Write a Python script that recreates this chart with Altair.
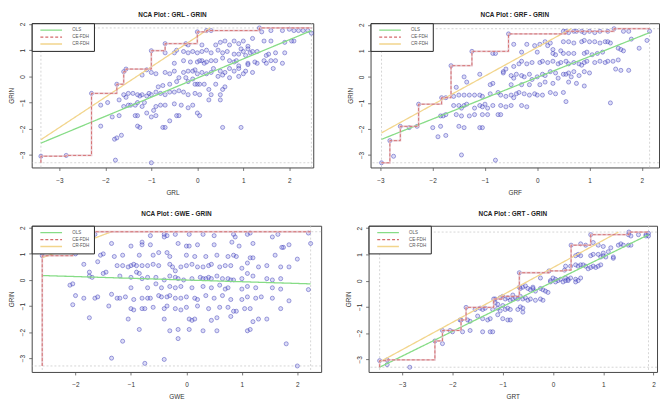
import altair as alt
import pandas as pd

FONT = "Liberation Sans"
METHODS = ["OLS", "CE-FDH", "CR-FDH"]
METHOD_COLORS = ["#86DC86", "#D46A6A", "#F2D58C"]
METHOD_DASH = [[1, 0], [3, 2], [1, 0]]
Y_TICKS = [-3, -2, -1, 0, 1, 2]

# ---------------- Panel 1 : GRL - GRIN ----------------
GRL_PTS = [
    (0.3, 1.75), (0.5, 1.3), (0.6, 1.35), (0.7, 1.2), (0.8, 1.35), (0.9, 1.25), (1.0, 1.35), (1.1, 1.15),
    (1.2, 1.45), (1.4, 1.7), (1.45, 1.35), (1.6, 1.75), (1.85, 1.75), (1.9, 1.3), (2.0, 1.8), (2.1, 1.75),
    (2.2, 1.75), (2.3, 1.75), (2.4, 1.75), (2.48, 1.65), (2.05, 1.35), (2.1, 1.35), (0.4, 1.2), (0.45, 1.0),
    (0.2, 1.0), (0.1, 0.95), (-0.1, 0.95), (-0.2, 0.9), (-0.3, 0.95), (-0.45, 1.0), (-0.5, 0.9), (-0.7, 0.9),
    (0.0, 0.9), (0.3, 0.9), (0.55, 0.9), (0.65, 0.95), (0.8, 0.85), (0.9, 0.85), (1.0, 0.95), (1.05, 0.8),
    (1.15, 0.9), (1.2, 0.95), (1.3, 0.95), (1.5, 0.8), (1.55, 0.85), (1.7, 0.9), (1.9, 0.9), (1.85, 0.5),
    (1.6, 0.6), (1.45, 0.6), (1.3, 0.5), (1.1, 0.5), (0.9, 0.4), (0.8, 0.55), (0.7, 0.6), (0.55, 0.7),
    (0.4, 0.6), (0.3, 0.6), (0.2, 0.55), (0.1, 0.6), (0.0, 0.55), (0.05, 0.6), (0.15, 0.5), (0.35, 0.3),
    (0.5, 0.2), (0.6, 0.15), (0.7, 0.3), (0.8, 0.2), (0.9, 0.3), (1.05, 0.2), (1.2, 0.15), (0.45, 0.0),
    (0.55, 0.05), (0.7, -0.05), (0.9, 0.0), (1.0, 0.1), (0.3, 0.15), (0.2, 0.1), (0.1, 0.15), (0.0, 0.1),
    (-0.1, 0.2), (-0.2, 0.2), (-0.3, 0.15), (-0.5, 0.2), (-0.6, 0.1), (-0.7, 0.15), (-0.9, 0.1), (-1.0, 0.15),
    (-1.2, 0.05), (-1.1, 0.25), (-0.5, 0.5), (-0.3, 0.6), (-0.15, 0.55), (-0.05, 0.25), (-0.4, -0.05),
    (-0.25, -0.05), (-0.1, -0.1), (0.0, -0.3), (0.05, -0.3), (0.15, -0.3), (-0.05, -0.3), (-0.2, -0.2),
    (-0.45, -0.2), (-0.6, -0.3), (-0.75, -0.35), (-0.85, -0.4), (-0.9, -0.6), (-0.8, -0.65), (-0.7, -0.7),
    (-0.6, -0.6), (-0.5, -0.6), (-0.4, -0.55), (-0.3, -0.6), (-0.2, -0.7), (-0.05, -0.65), (0.05, -0.7),
    (0.25, -0.5), (0.3, -0.7), (0.5, -0.7), (0.55, -0.5), (0.4, -0.3), (0.6, -0.4), (0.25, -0.9), (0.0, -1.4),
    (0.05, -1.5), (-0.1, -1.1), (-0.2, -1.2), (-0.35, -1.1), (-0.5, -1.05), (-0.45, -1.5), (-0.7, -1.1),
    (-0.8, -1.1), (-0.9, -1.15), (-1.0, -0.7), (-1.05, -0.65), (-1.1, -0.75), (-1.2, -0.7), (-1.25, -0.75),
    (-1.3, -0.7), (-1.35, -1.1), (-1.4, -0.65), (-1.45, -1.1), (-1.5, -1.1), (-1.55, -0.8), (-1.6, -1.15),
    (-1.3, -1.0), (-1.2, -1.15), (-1.15, -1.0), (-1.1, -1.4), (-1.0, -1.55), (-0.9, -1.5), (-0.95, -1.3),
    (-1.3, -1.5), (-1.35, -1.5), (-1.3, -1.9), (-1.25, -1.95), (-0.75, -1.95), (-0.7, -1.95), (-0.6, -1.7),
    (-0.4, -1.5), (-1.8, -2.4), (-1.75, -2.35), (-1.65, -2.25), (-1.78, -3.2), (-1.0, -3.3), (0.55, -1.95),
    (0.95, -1.95), (-2.1, -1.1), (-2.1, -1.9), (-1.95, -1.0), (-1.85, -1.55), (-1.7, -1.5), (-1.5, -0.65),
    (-1.6, -0.7), (-1.7, -0.9), (0.5, -0.9), (0.1, 1.2), (-0.2, 1.2), (1.6, 1.35), (1.65, 0.3), (1.7, 0.6),
    (1.5, 0.5), (1.1, 0.45), (1.25, 0.55), (0.85, 0.6), (0.95, 1.05), (1.1, 1.05),
]
GRL_STEP = [(-3.4, -3.3), (-3.4, -3.05), (-2.85, -3.02), (-2.3, -0.65), (-1.75, -0.3), (-1.6, 0.18),
            (-1.55, 0.28), (-1.0, 0.98), (-0.7, 1.25), (-0.25, 1.25), (0.0, 1.7), (0.2, 1.75),
            (1.35, 1.85), (2.48, 1.85)]
GRL_OLS = [(-3.4, -2.55), (2.48, 1.75)]
GRL_CR = [(-3.4, -2.42), (0.28, 1.85)]
GRL_SCOPE = (-3.4, 2.48, -3.3, 1.85)

# ---------------- Panel 2 : GRF - GRIN ----------------
GRF_PTS = [
    (-2.98, -3.3), (0.2, 1.2), (0.25, 1.3), (0.5, 1.75), (0.6, 1.7), (0.7, 1.75), (0.75, 1.75), (0.85, 1.75),
    (0.9, 1.7), (1.0, 1.75), (1.1, 1.7), (1.2, 1.75), (1.35, 1.75), (1.65, 1.75), (1.75, 1.75),
    (2.15, 1.75), (0.85, 1.35), (0.9, 1.4), (1.0, 1.35), (1.1, 1.35), (1.2, 1.3), (1.3, 1.35), (1.35, 1.35),
    (1.4, 1.3), (1.55, 1.1), (1.6, 1.05), (1.65, 1.0), (1.8, 1.45), (1.95, 1.1), (2.1, 1.4), (-0.45, 1.25),
    (-0.2, 1.25), (-0.05, 1.2), (0.05, 1.25), (0.3, 1.05), (0.45, 1.0), (0.5, 1.35), (0.6, 1.35), (0.7, 1.3),
    (0.15, 1.35), (-0.85, 0.9), (-0.8, 0.9), (-0.3, 0.95), (0.0, 0.95), (0.3, 0.9), (0.35, 0.85), (0.5, 0.9),
    (0.6, 0.9), (0.7, 0.9), (0.9, 0.9), (0.95, 0.95), (1.05, 0.85), (1.15, 0.9), (1.25, 0.95), (-0.35, 0.5),
    (-0.3, 0.6), (-0.2, 0.5), (-0.1, 0.55), (0.05, 0.55), (0.1, 0.6), (0.2, 0.55), (0.3, 0.6), (0.4, 0.5),
    (0.45, 0.55), (0.55, 0.6), (0.6, 0.5), (0.7, 0.55), (0.8, 0.5), (0.85, 0.45), (0.9, 0.55), (0.95, 0.6),
    (1.1, 0.55), (1.2, 0.6), (1.35, 0.6), (1.45, 0.6), (1.5, 0.3), (1.55, 0.65), (1.6, 0.25), (1.75, 0.25),
    (1.3, 0.55), (-0.6, 0.3), (-0.65, 0.2), (-0.45, 0.4), (-1.55, -0.4), (-1.4, 0.0), (-1.35, -0.2),
    (-1.1, 0.1), (-0.65, 0.15), (-0.5, 0.05), (-0.45, -0.05), (-0.4, 0.1), (-0.3, 0.05), (-0.25, 0.0),
    (-0.15, 0.1), (-0.1, -0.1), (0.0, 0.0), (0.1, 0.1), (0.15, 0.05), (0.25, 0.2), (0.35, 0.15), (0.4, -0.05),
    (0.5, 0.1), (0.55, 0.1), (0.6, 0.15), (0.7, 0.2), (0.8, 0.05), (0.9, 0.2), (1.0, 0.15), (0.65, 0.0),
    (0.75, -0.25), (0.9, -0.35), (0.6, -0.2), (0.3, -0.25), (0.15, -0.2), (0.05, -0.3), (-0.15, -0.3),
    (-0.3, -0.3), (-0.5, -0.3), (-0.85, -0.25), (-0.9, -0.3), (-1.75, -0.8), (-1.6, -0.75), (-1.5, -0.7),
    (-1.4, -0.7), (-1.3, -0.7), (-1.2, -0.7), (-1.1, -0.7), (-1.05, -0.75), (-0.9, -0.65), (-0.75, -0.6),
    (-0.7, -0.7), (-0.6, -0.75), (-0.5, -0.7), (-0.4, -0.65), (-0.35, -0.6), (-0.25, -0.65), (-0.15, -0.7),
    (-0.05, -0.65), (0.0, -0.7), (0.1, -0.7), (0.25, -0.6), (0.35, -0.65), (0.5, -0.6), (0.55, -0.95),
    (-0.45, -0.8), (-1.5, -1.1), (-1.45, -1.2), (-1.4, -1.1), (-1.35, -1.05), (-1.1, -1.1), (-1.05, -1.15),
    (-1.0, -1.05), (-0.95, -1.2), (-0.85, -1.1), (-0.7, -1.1), (-0.6, -1.15), (-0.5, -1.1), (-0.3, -1.1),
    (-0.2, -1.15), (-1.2, -1.45), (-1.3, -1.5), (-1.45, -1.5), (-1.55, -1.45), (-1.8, -1.5), (-1.85, -1.5),
    (-1.75, -1.45), (-1.05, -1.45), (-0.95, -1.45), (-0.75, -1.45), (-0.7, -1.45), (-1.6, -1.1),
    (-1.2, -1.2), (-2.0, -1.95), (-1.85, -1.9), (-1.9, -2.3), (-1.75, -2.25), (-1.5, -1.9), (-1.4, -1.95),
    (-1.1, -1.95), (-1.05, -1.95), (-2.45, -1.95), (-2.75, -3.05), (-1.45, -3.0), (-0.8, -3.2), (1.4, -1.0),
]
GRF_STEP = [(-2.98, -3.3), (-2.82, -2.45), (-2.62, -1.9), (-2.3, -1.9), (-2.27, -1.05), (-1.83, -0.8),
            (-1.65, 0.43), (-1.25, 0.98), (-0.55, 1.65), (0.55, 1.75), (1.47, 1.85), (2.15, 1.85)]
GRF_OLS = [(-2.98, -2.4), (2.15, 1.7)]
GRF_CR = [(-2.98, -2.15), (0.65, 1.85)]
GRF_SCOPE = (-2.98, 2.15, -3.3, 1.85)

# ---------------- Panel 3 : GWE - GRIN ----------------
GWE_PTS = [
    (-1.65, 1.75), (-0.65, 1.7), (-0.4, 1.75), (-0.35, 1.7), (-0.2, 1.75), (0.05, 1.75), (0.3, 1.75),
    (0.5, 1.7), (0.85, 1.75), (0.88, 1.65), (1.1, 1.75), (1.15, 1.8), (1.55, 1.65), (1.65, 1.75), (2.2, 1.8),
    (-0.4, 1.65), (-1.35, 1.4), (-1.0, 1.3), (-0.8, 1.45), (-0.8, 1.35), (-0.65, 1.35), (-0.15, 1.4),
    (0.0, 1.3), (0.2, 1.35), (0.5, 1.35), (0.82, 1.45), (0.95, 1.3), (1.2, 1.4), (1.75, 1.25), (1.72, 1.25),
    (1.85, 1.35), (2.24, 1.4), (0.05, 1.3), (-2.0, 1.0), (-1.5, 1.0), (-1.55, 0.95), (-1.3, 0.9),
    (-1.15, 0.95), (-0.85, 0.95), (-0.6, 0.95), (-0.35, 1.05), (-0.3, 0.9), (0.0, 0.95), (0.15, 0.9),
    (0.35, 0.9), (0.55, 0.95), (0.85, 0.95), (0.9, 0.9), (1.15, 0.85), (1.2, 0.85), (1.6, 0.95), (2.0, 0.8),
    (-0.5, 1.05), (0.75, 0.9), (-1.85, 0.6), (-1.6, 0.7), (-1.25, 0.55), (-1.0, 0.55), (-0.95, 0.6),
    (-0.9, 0.55), (-0.8, 0.55), (-0.7, 0.55), (-0.5, 0.55), (-0.3, 0.6), (-0.25, 0.5), (-0.1, 0.5),
    (0.0, 0.55), (0.1, 0.6), (0.2, 0.5), (0.3, 0.5), (0.4, 0.55), (0.45, 0.6), (0.6, 0.5), (0.7, 0.55),
    (0.8, 0.55), (1.0, 0.45), (1.1, 0.65), (1.3, 0.5), (1.45, 0.55), (1.7, 0.5), (1.85, 0.5), (-1.15, 0.55),
    (-1.05, 0.5), (-0.6, 0.6), (-0.2, 0.35), (-1.75, 0.3), (-1.75, 0.15), (-1.7, 0.1), (-1.45, 0.3),
    (-1.2, 0.15), (-1.0, 0.1), (-0.85, 0.25), (-0.8, 0.05), (-0.7, 0.1), (-0.55, 0.1), (-0.4, 0.0),
    (-0.3, 0.15), (-0.2, 0.1), (-0.15, 0.05), (-0.05, 0.0), (0.1, 0.05), (0.25, 0.1), (0.3, 0.05), (0.4, 0.1),
    (0.45, 0.05), (0.55, 0.15), (0.65, 0.05), (0.75, 0.05), (0.8, 0.0), (0.85, 0.0), (1.0, 0.05), (1.1, 0.25),
    (1.2, 0.15), (1.45, 0.05), (1.55, 0.0), (1.7, 0.05), (-1.5, 0.25), (-0.9, 0.3), (0.35, 0.05),
    (-2.1, -0.2), (-2.05, -0.15), (-1.0, -0.3), (-0.7, -0.3), (-0.45, -0.3), (-0.3, -0.25), (-0.2, -0.3),
    (-0.1, -0.25), (0.1, -0.3), (0.3, -0.25), (0.45, -0.3), (0.6, -0.2), (0.7, -0.35), (0.75, -0.3),
    (1.0, -0.35), (1.1, -0.25), (1.25, -0.3), (1.55, -0.3), (1.7, -0.35), (2.2, -0.37), (-0.55, -0.15),
    (-2.0, -0.6), (-1.85, -0.7), (-1.65, -0.7), (-1.6, -0.65), (-1.35, -0.55), (-1.25, -0.7), (-1.2, -0.7),
    (-1.1, -0.65), (-0.95, -0.75), (-0.8, -0.7), (-0.7, -0.7), (-0.65, -0.7), (-0.5, -0.6), (-0.45, -0.65),
    (-0.35, -0.65), (-0.3, -0.6), (-0.2, -0.7), (-0.1, -0.7), (0.0, -0.65), (0.15, -0.7), (0.2, -0.75),
    (0.35, -0.6), (0.5, -0.7), (0.65, -0.6), (0.8, -0.75), (1.0, -0.75), (1.1, -0.65), (1.25, -0.7),
    (1.35, -0.65), (1.55, -0.7), (1.85, -0.8), (-1.4, -1.0), (-2.05, -0.95), (-1.0, -1.1), (-0.95, -1.15),
    (-0.8, -1.1), (-0.75, -1.1), (-0.6, -1.05), (-0.4, -1.1), (-0.35, -1.0), (-0.2, -1.1), (-0.1, -1.15),
    (0.0, -1.05), (0.2, -1.0), (0.4, -1.1), (0.6, -1.05), (0.75, -1.05), (0.9, -1.2), (1.05, -1.1),
    (1.15, -1.1), (1.7, -1.1), (0.85, -1.2), (-1.75, -1.45), (-1.05, -1.5), (-0.4, -1.5), (0.05, -1.5),
    (0.1, -1.55), (0.15, -1.5), (0.45, -1.55), (0.55, -1.45), (0.8, -1.4), (1.2, -1.6), (1.3, -1.5),
    (1.45, -1.5), (-0.85, -1.9), (-0.3, -1.95), (-0.15, -1.9), (0.05, -1.9), (0.3, -1.95), (0.55, -1.95),
    (1.1, -1.95), (1.15, -1.9), (-1.15, -2.35), (-0.15, -2.25), (1.8, -2.45), (-1.35, -3.0), (-0.75, -3.2),
    (-0.4, -3.05), (2.0, -3.3),
]
GWE_STEP = [(-2.6, -3.3), (-2.6, 0.93), (-2.05, 1.08), (-1.72, 1.85), (2.24, 1.85)]
GWE_OLS = [(-2.6, 0.17), (2.24, -0.15)]
GWE_CR = [(-2.6, 0.85), (-1.35, 1.85)]
GWE_SCOPE = (-2.6, 2.24, -3.3, 1.85)

# ---------------- Panel 4 : GRT - GRIN ----------------
GRT_PTS = [
    (-3.3, -3.2), (-2.85, -3.3), (-2.2, -2.4), (-2.0, -1.95), (-2.05, -1.9), (-1.8, -1.95), (-1.65, -1.9),
    (-1.4, -1.95), (-1.25, -1.95), (-1.2, -1.95), (-1.85, -1.5), (-1.7, -1.5), (-1.65, -1.55), (-1.5, -1.35),
    (-1.4, -1.45), (-1.3, -1.5), (-1.25, -1.45), (-1.1, -1.3), (-1.0, -1.45), (-0.9, -1.5), (-0.85, -1.5),
    (-1.55, -1.1), (-1.45, -1.05), (-1.4, -1.1), (-1.35, -1.05), (-1.2, -1.1), (-1.1, -1.05), (-1.05, -1.15),
    (-0.95, -1.1), (-0.9, -1.05), (-0.85, -1.1), (-0.7, -1.1), (-0.6, -1.05), (-0.6, -1.2), (-1.15, -0.85),
    (-1.1, -0.9), (-1.0, -0.95), (-0.65, -1.0), (-1.15, -0.7), (-1.05, -0.65), (-0.95, -0.7), (-0.9, -0.65),
    (-0.85, -0.75), (-0.8, -0.7), (-0.75, -0.65), (-0.7, -0.7), (-0.65, -0.6), (-0.6, -0.7), (-0.55, -0.65),
    (-0.5, -0.75), (-0.45, -0.7), (-0.35, -0.75), (-0.25, -0.7), (-0.2, -0.75), (-0.8, -0.55), (-0.65, -0.3),
    (-0.6, -0.25), (-0.5, -0.3), (-0.45, -0.35), (-0.4, -0.3), (-0.4, -0.25), (-0.35, -0.4), (-0.25, -0.3),
    (-0.2, -0.35), (-0.15, -0.4), (-0.1, -0.45), (-0.55, -0.2), (-0.05, 0.0), (0.0, 0.1), (0.05, 0.05),
    (0.1, 0.0), (0.15, 0.05), (0.2, -0.05), (0.25, 0.0), (0.25, 0.1), (0.3, 0.05), (0.3, 0.0), (0.35, 0.1),
    (0.45, 0.05), (0.5, 0.0), (0.55, 0.1), (-0.25, 0.1), (0.05, -0.05), (0.45, -0.05), (-0.05, -0.05),
    (0.25, 0.55), (0.45, 0.6), (0.5, 0.55), (0.55, 0.6), (0.65, 0.55), (0.7, 0.45), (0.75, 0.5), (0.8, 0.55),
    (0.85, 0.5), (0.9, 0.55), (0.95, 0.6), (0.6, 0.6), (0.35, 0.55), (0.45, 0.95), (0.5, 1.0), (0.55, 0.95),
    (0.75, 0.95), (0.8, 1.0), (0.95, 0.9), (1.0, 0.95), (1.05, 0.9), (1.2, 0.85), (1.2, 0.9), (1.0, 1.05),
    (0.9, 1.0), (0.55, 1.4), (0.65, 1.35), (0.9, 1.35), (1.0, 1.3), (1.1, 1.1), (1.15, 1.25), (1.3, 1.35),
    (1.35, 1.4), (1.4, 1.35), (1.5, 1.35), (1.55, 1.35), (0.8, 1.45), (1.5, 1.75), (1.55, 1.7), (1.7, 1.75),
    (1.85, 1.75), (1.9, 1.8), (1.9, 1.7), (1.85, 1.7), (-0.67, -0.25),
]
GRT_STEP = [(-3.45, -3.3), (-3.45, -3.05), (-3.3, -3.02), (-2.35, -2.3), (-2.2, -1.9), (-1.83, -1.5),
            (-1.73, -1.02), (-1.18, -0.7), (-1.0, -0.6), (-0.67, 0.3), (-0.08, 0.37), (0.23, 0.4),
            (0.36, 1.35), (0.75, 1.75), (1.51, 1.85), (1.9, 1.85)]
GRT_OLS = [(-3.45, -3.3), (1.9, 1.75)]
GRT_CR = [(-3.45, -3.1), (1.3, 1.85)]
GRT_SCOPE = (-3.45, 1.9, -3.3, 1.85)


def panel(xname, pts, step, ols, cr, scope, xdom, ydom, xticks, w, h, title_offset):
    xmin, xmax, ymin, ymax = scope
    peers = step[1:-1]
    pdf = pd.DataFrame(pts + peers, columns=["x", "y"])
    sdf = pd.DataFrame(step, columns=["x", "y"])
    sdf["method"] = "CE-FDH"
    sdf["order"] = list(range(len(sdf)))
    odf = pd.DataFrame(ols, columns=["x", "y"])
    odf["method"] = "OLS"
    cdf = pd.DataFrame(cr, columns=["x", "y"])
    cdf["method"] = "CR-FDH"
    ldf = pd.concat([odf, cdf], ignore_index=True)

    xs = alt.Scale(domain=xdom, nice=False, zero=False)
    ys = alt.Scale(domain=ydom, nice=False, zero=False)
    xaxis = alt.Axis(values=xticks, title=xname, grid=False, domain=False, tickSize=3,
                     labelPadding=7, titlePadding=5, minExtent=17, maxExtent=17)
    yaxis = alt.Axis(values=Y_TICKS, title="GRIN", grid=False, domain=False, tickSize=3,
                     labelAngle=-90, labelAlign="center", labelBaseline="bottom",
                     labelPadding=3, titlePadding=4, minExtent=13, maxExtent=13)
    X = alt.X("x:Q", scale=xs, axis=xaxis)
    Y = alt.Y("y:Q", scale=ys, axis=yaxis)

    leg = alt.Legend(title=None, orient="top-left", offset=0, padding=4, fillColor="white",
                     strokeColor="#222222", cornerRadius=0, symbolType="M0.8,0H10.6", symbolSize=20,
                     symbolStrokeWidth=1.4, labelFontSize=4.5, labelOffset=31, rowPadding=1,
                     labelColor="#555555", labelFont=FONT,
                     labelExpr="datum.label + '                                      '")
    color = alt.Color("method:N", scale=alt.Scale(domain=METHODS, range=METHOD_COLORS), legend=leg)
    dash = alt.StrokeDash("method:N", scale=alt.Scale(domain=METHODS, range=METHOD_DASH), legend=leg)

    rule_style = dict(color="#C4C4C4", strokeDash=[2, 2], strokeWidth=0.7)
    vrules = alt.Chart(pd.DataFrame({"x": [xmin, xmax]})).mark_rule(**rule_style).encode(x=X)
    hrules = alt.Chart(pd.DataFrame({"y": [ymin, ymax]})).mark_rule(**rule_style).encode(y=Y)
    points = alt.Chart(pdf).mark_point(shape="circle", size=17, fill="#8A8AE6", fillOpacity=0.3,
                                       stroke="#2E2EB0", strokeOpacity=0.55,
                                       strokeWidth=0.8).encode(x=X, y=Y)
    lines = alt.Chart(ldf).mark_line(strokeWidth=1.3).encode(x=X, y=Y, color=color, strokeDash=dash)
    step_under = alt.Chart(sdf).mark_line(interpolate="step-after", color="#E2BCC4", strokeWidth=1.8,
                                          opacity=0.8).encode(x=X, y=Y, order="order:Q")
    step_line = alt.Chart(sdf).mark_line(interpolate="step-after", strokeWidth=0.9).encode(
        x=X, y=Y, order="order:Q", color=color, strokeDash=dash)

    title = alt.TitleParams(f"NCA Plot : {xname} - GRIN", fontSize=6.5, fontWeight="bold", font=FONT,
                            offset=title_offset, anchor="middle", color="#222222")
    return alt.layer(vrules, hrules, points, lines, step_under, step_line).properties(
        width=w, height=h, title=title)


p1 = panel("GRL", GRL_PTS, GRL_STEP, GRL_OLS, GRL_CR, GRL_SCOPE, [-3.6, 2.52], [-3.48, 2.03],
           [-3, -2, -1, 0, 1, 2], 285, 146, 4)
p2 = panel("GRF", GRF_PTS, GRF_STEP, GRF_OLS, GRF_CR, GRF_SCOPE, [-3.19, 2.33], [-3.48, 2.06],
           [-3, -2, -1, 0, 1, 2], 292, 146, 4)
p3 = panel("GWE", GWE_PTS, GWE_STEP, GWE_OLS, GWE_CR, GWE_SCOPE, [-2.79, 2.43], [-3.53, 2.08],
           [-2, -1, 0, 1, 2], 293, 148, 8)
p4 = panel("GRT", GRT_PTS, GRT_STEP, GRT_OLS, GRT_CR, GRT_SCOPE, [-3.67, 2.07], [-3.48, 2.09],
           [-3, -2, -1, 0, 1, 2], 292, 148, 8)

indep = dict(color="independent", strokeDash="independent")
row1 = alt.hconcat(p1, p2, spacing=31).resolve_scale(**indep)
row2 = alt.hconcat(p3, p4, spacing=23).resolve_scale(**indep)
chart = alt.vconcat(row1, row2, spacing=14).resolve_scale(**indep).properties(
    padding=0, background="white"
).configure_view(stroke="#444444", strokeWidth=1).configure_axis(
    labelFont=FONT, titleFont=FONT, labelFontSize=6.5, titleFontSize=6.5, titleFontWeight="normal",
    labelColor="#333333", titleColor="#333333", tickColor="#555555", tickWidth=0.8
)

chart.save("out.html", embed_options={"renderer": "svg", "actions": False})
